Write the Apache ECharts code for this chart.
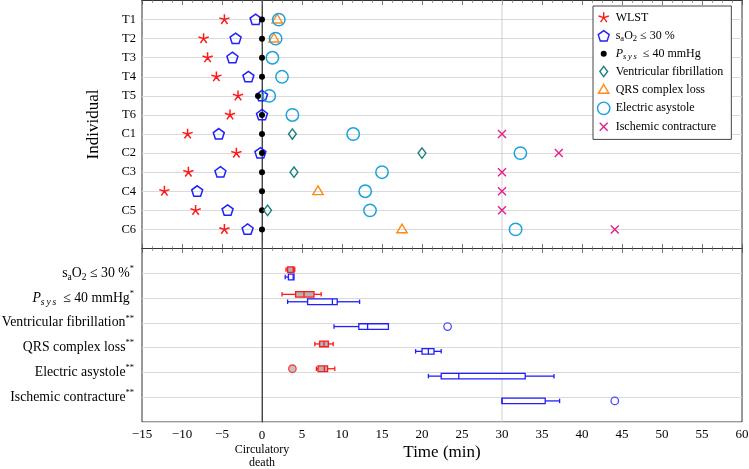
<!DOCTYPE html>
<html><head><meta charset="utf-8">
<script src="https://cdn.jsdelivr.net/npm/echarts@6/dist/echarts.min.js"></script>
<style>html,body{margin:0;padding:0;background:#fff}#c{width:749px;height:469px}</style>
</head><body><div id="c"></div>
<script>
// ---------- data (minutes relative to circulatory death) ----------
const individuals = ['T1','T2','T3','T4','T5','T6','C1','C2','C3','C4','C5','C6'];
const wlst        = [-4.7, -7.3, -6.8, -5.7, -3.0, -4.0, -9.3, -3.2, -9.2, -12.2, -8.3, -4.7];
const sao2        = [-0.8, -3.3, -3.7, -1.7, 0.0, 0.0, -5.4, -0.2, -5.2, -8.1, -4.3, -1.8];
const psys        = [0, 0, 0, 0, -0.5, 0, 0, 0, 0, 0, 0, 0];
const vfib        = [null, null, null, null, null, null, 3.8, 20.0, 4.0, null, 0.7, null];
const qrsLoss     = [1.9, 1.5, null, null, null, null, null, null, null, 7.0, null, 17.5];
const asystole    = [2.1, 1.7, 1.3, 2.5, 0.9, 3.8, 11.4, 32.3, 15.0, 12.9, 13.5, 31.7];
const contracture = [null, null, null, null, null, null, 30.0, 37.1, 30.0, 30.0, 30.0, 44.1];

// box plots (minutes after WLST): [min, q1, median, q3, max]
const boxRows = ['saO2', 'Psys', 'VF', 'QRS', 'EA', 'IC'];
const boxT = [[3.0, 3.2, 3.9, 4.0, 4.1], [2.5, 4.2, 5.25, 6.5, 7.4], null, [6.6, 7.2, 7.75, 8.3, 8.9], [6.8, 7.0, 7.8, 8.2, 9.1], null];
const boxC = [[2.9, 3.3, 3.9, 4.0, 4.0], [3.2, 5.7, 8.8, 9.4, 12.2], [9.0, 12.1, 13.2, 15.8, 15.8], [19.2, 20.0, 20.8, 21.5, 22.4], [20.8, 22.4, 24.6, 32.9, 36.5], [30.0, 30.0, 30.0, 35.4, 37.2]];
const outliersT = [[3.8, 4]];           // [minutes, row index]
const outliersC = [[23.2, 2], [44.1, 5]];

const xMin = -15, xMax = 60, xStep = 5;
const refLines = [0, 30];

// ---------- styling ----------
const serif = "'Liberation Serif', 'DejaVu Serif', serif";
const P = {
  star: 'path://M0 0M14 14M7 7L7 1.6M7 7L12.14 5.33M7 7L10.17 11.37M7 7L3.83 11.37M7 7L1.86 5.33',
  pentagon: 'path://M0 0M14 14M7 1.5L12.5 5.5L10.4 11.9L3.6 11.9L1.5 5.5Z',
  dot: 'path://M0 0M14 14M10 7A3 3 0 1 1 4 7A3 3 0 1 1 10 7Z',
  diamond: 'path://M0 0M14 14M7 1.8L10.9 7L7 12.2L3.1 7Z',
  triangle: 'path://M0 0M14 14M7 1.6L12.2 10.4L1.8 10.4Z',
  circle: 'path://M0 0M14 14M13.2 7A6.2 6.2 0 1 1 0.8 7A6.2 6.2 0 1 1 13.2 7Z',
  cross: 'path://M0 0M14 14M3 3L11 11M11 3L3 11'
};
const RED = '#ff1a1a', BLUE = '#1f1fff', TEAL = '#1b7f7f', ORANGE = '#ff8a1a', CYAN = '#1aa3db', MAGENTA = '#e0208c';

function pts(arr) { const o = []; arr.forEach((v, i) => { if (v !== null) o.push([v, i + 1]); }); return o; }

const markerSeries = [
  { name: 'WLST', sym: P.star, fill: RED, stroke: RED, bw: 1.5, data: wlst },
  { name: 'saO2', sym: P.pentagon, fill: 'rgba(0,0,0,0)', stroke: BLUE, bw: 1.5, data: sao2 },
  { name: 'Psys', sym: P.dot, fill: '#000', stroke: '#000', bw: 0, data: psys },
  { name: 'VF', sym: P.diamond, fill: 'rgba(0,0,0,0)', stroke: TEAL, bw: 1.4, data: vfib },
  { name: 'QRS', sym: P.triangle, fill: 'rgba(0,0,0,0)', stroke: ORANGE, bw: 1.4, data: qrsLoss },
  { name: 'EA', sym: P.circle, fill: 'rgba(0,0,0,0)', stroke: CYAN, bw: 1.5, data: asystole },
  { name: 'IC', sym: P.cross, fill: MAGENTA, stroke: MAGENTA, bw: 1.4, data: contracture }
];

const richText = {
  n: { fontFamily: serif, fontSize: 12, lineHeight: 14, color: '#000' },
  s: { fontFamily: serif, fontSize: 8.5, lineHeight: 8, verticalAlign: 'bottom', color: '#000' },
  i: { fontFamily: serif, fontSize: 12, fontStyle: 'italic', lineHeight: 14, color: '#000' },
  is: { fontFamily: serif, fontSize: 8.5, fontStyle: 'italic', lineHeight: 8, verticalAlign: 'bottom', color: '#000' }
};
const legendRich = {
  WLST: '{n|WLST}',
  saO2: '{n|s}{s|a}{n|O}{s|2}{n| ≤ 30 %}',
  Psys: '{i|P}{is|s\u2009y\u2009s}{n|  ≤ 40 mmHg}',
  VF: '{n|Ventricular fibrillation}',
  QRS: '{n|QRS complex loss}',
  EA: '{n|Electric asystole}',
  IC: '{n|Ischemic contracture}'
};
const rowRich = {
  saO2: '{n|s}{s|a}{n|O}{s|2}{n| ≤ 30 %}{p|*}',
  Psys: '{i|P}{is|s\u2009y\u2009s}{n|  ≤ 40 mmHg}{p|*}',
  VF: '{n|Ventricular fibrillation}{p|**}',
  QRS: '{n|QRS complex loss}{p|**}',
  EA: '{n|Electric asystole}{p|**}',
  IC: '{n|Ischemic contracture}{p|**}'
};
const rowLabelRich = {
  n: { fontFamily: serif, fontSize: 13.8, lineHeight: 18, color: '#000' },
  s: { fontFamily: serif, fontSize: 9.5, lineHeight: 11, verticalAlign: 'bottom', color: '#000' },
  i: { fontFamily: serif, fontSize: 13.8, fontStyle: 'italic', lineHeight: 18, color: '#000' },
  is: { fontFamily: serif, fontSize: 9.5, fontStyle: 'italic', lineHeight: 11, verticalAlign: 'bottom', color: '#000' },
  p: { fontFamily: serif, fontSize: 8.5, lineHeight: 10, verticalAlign: 'top', color: '#000' }
};

function fmtX(v) {
  if (v === 0) return '{t|0}\n{c|Circulatory}\n{c|death}';
  return v < 0 ? '\u2212' + (-v) : String(v);
}

function tickAxis(grid, pos, showLabel) {
  const ax = {
    type: 'value', gridIndex: grid, position: pos, min: xMin, max: xMax, interval: xStep,
    axisLine: { show: true, lineStyle: { color: '#333', width: 1 } },
    axisTick: { show: true, inside: true, length: 4.5, lineStyle: { color: '#555', width: 0.8 } },
    minorTick: { show: true, splitNumber: 4, length: 2.5, lineStyle: { color: '#777', width: 0.7 } },
    splitLine: { show: false },
    axisLabel: { show: false }
  };
  if (showLabel) {
    ax.axisLabel = {
      show: true, margin: 6, fontFamily: serif, fontSize: 13, color: '#000',
      formatter: fmtX,
      rich: {
        t: { fontFamily: serif, fontSize: 13, lineHeight: 15, color: '#000' },
        c: { fontFamily: serif, fontSize: 12, lineHeight: 13.5, color: '#000' }
      }
    };
    ax.name = 'Time (min)';
    ax.nameLocation = 'middle';
    ax.nameGap = 22;
    ax.nameMoveOverlap = false;
    ax.nameTextStyle = { fontFamily: serif, fontSize: 17, color: '#000' };
  }
  return ax;
}

function refLineSeries(xi, yi) {
  return {
    type: 'custom', xAxisIndex: xi, yAxisIndex: yi, silent: true, z: 1,
    data: refLines.map(v => [v]), encode: { x: 0 },
    renderItem: function (params, api) {
      const v = api.value(0);
      const cs = params.coordSys;
      const x = api.coord([v, 0])[0];
      return { type: 'line', shape: { x1: x, y1: cs.y, x2: x, y2: cs.y + cs.height },
        style: { stroke: v === 0 ? '#5a5a5a' : '#cfcfcf', lineWidth: 1 } };
    }
  };
}

function boxSeries(arr, off, stroke, fill) {
  const data = [];
  arr.forEach((b, i) => { if (b) data.push([i + 1].concat(b)); });
  return {
    type: 'custom', xAxisIndex: 2, yAxisIndex: 1, z: 3, silent: true,
    data: data, encode: { x: [1, 2, 3, 4, 5], y: 0 },
    renderItem: function (params, api) {
      const r = api.value(0);
      const xs = [1, 2, 3, 4, 5].map(k => api.coord([api.value(k), r])[0]);
      const cy = api.coord([api.value(1), r])[1] + off;
      const h = 5.6, ch = 4.5, lw = 1.3;
      const ln = (x1, y1, x2, y2) => ({ type: 'line', shape: { x1, y1, x2, y2 }, style: { stroke, lineWidth: lw } });
      const kids = [];
      if (xs[1] - xs[0] > 0.5) { kids.push(ln(xs[0], cy, xs[1], cy)); kids.push(ln(xs[0], cy - ch / 2, xs[0], cy + ch / 2)); }
      if (xs[4] - xs[3] > 0.5) { kids.push(ln(xs[3], cy, xs[4], cy)); kids.push(ln(xs[4], cy - ch / 2, xs[4], cy + ch / 2)); }
      kids.push({ type: 'rect', shape: { x: xs[1], y: cy - h / 2, width: xs[3] - xs[1], height: h }, style: { fill, stroke, lineWidth: lw } });
      kids.push(ln(xs[2], cy - h / 2, xs[2], cy + h / 2));
      return { type: 'group', children: kids };
    }
  };
}

const series = [refLineSeries(0, 0), refLineSeries(2, 1)];
markerSeries.forEach((m, k) => {
  series.push({
    name: m.name, type: 'scatter', xAxisIndex: 0, yAxisIndex: 0, z: 3 + k,
    symbol: m.sym, symbolSize: 14, data: pts(m.data), silent: true,
    itemStyle: { color: m.fill, borderColor: m.stroke, borderWidth: m.bw, opacity: 1 }
  });
});
series.push(boxSeries(boxT, -3.7, RED, '#b3b3b3'));
series.push(boxSeries(boxC, 3.7, BLUE, '#ffffff'));
series.push({
  type: 'scatter', xAxisIndex: 2, yAxisIndex: 1, z: 4, silent: true,
  symbol: 'circle', symbolSize: 7.5, symbolOffset: [0, -3.7],
  data: outliersT.map(o => [o[0], o[1] + 1]),
  itemStyle: { color: '#b3b3b3', borderColor: RED, borderWidth: 1.3 }
});
series.push({
  type: 'scatter', xAxisIndex: 2, yAxisIndex: 1, z: 4, silent: true,
  symbol: 'circle', symbolSize: 7.5, symbolOffset: [0, 3.7],
  data: outliersC.map(o => [o[0], o[1] + 1]),
  itemStyle: { color: '#ffffff', borderColor: BLUE, borderWidth: 1.3 }
});

const option = {
  animation: false,
  backgroundColor: '#fff',
  grid: [
    { left: 142, right: 7, top: 0.5, height: 248, show: true, borderColor: '#333', borderWidth: 1, backgroundColor: '#fff', containLabel: false, outerBoundsMode: 'none' },
    { left: 142, right: 7, top: 248.5, height: 173.5, show: true, borderColor: '#333', borderWidth: 1, backgroundColor: '#fff', containLabel: false, outerBoundsMode: 'none' }
  ],
  xAxis: [tickAxis(0, 'bottom', false), tickAxis(0, 'top', false), tickAxis(1, 'bottom', true), tickAxis(1, 'top', false)],
  yAxis: [
    {
      type: 'value', gridIndex: 0, min: 0, max: individuals.length + 1, interval: 1, inverse: true,
      axisLine: { show: true, lineStyle: { color: '#333' } }, axisTick: { show: false },
      splitLine: { show: true, lineStyle: { color: '#dadada', width: 1 } },
      axisLabel: { margin: 6, fontFamily: serif, fontSize: 12.5, color: '#000',
        formatter: v => individuals[v - 1] || '' },
      name: 'Individual', nameLocation: 'middle', nameGap: 40, nameMoveOverlap: false,
      nameTextStyle: { fontFamily: serif, fontSize: 17, color: '#000' }
    },
    {
      type: 'value', gridIndex: 1, min: 0, max: boxRows.length + 1, interval: 1, inverse: true,
      axisLine: { show: true, lineStyle: { color: '#333' } }, axisTick: { show: false },
      splitLine: { show: true, lineStyle: { color: '#dadada', width: 1 } },
      axisLabel: { margin: 8, formatter: v => rowRich[boxRows[v - 1]] || '', rich: rowLabelRich }
    }
  ],
  legend: {
    left: 593, top: 6, orient: 'vertical', selectedMode: false,
    itemWidth: 14, itemHeight: 14, itemGap: 3,
    padding: [4, 8, 5, 3],
    backgroundColor: '#fff', borderColor: '#444', borderWidth: 1, borderRadius: 0,
    itemStyle: { borderWidth: 1.4 },
    data: markerSeries.map(m => m.bw === 0 ? { name: m.name, itemStyle: { borderWidth: 0 } } : { name: m.name }),
    formatter: name => legendRich[name],
    textStyle: { rich: richText }
  },
  series: series
};

const chart = echarts.init(document.getElementById('c'), null, { renderer: 'canvas' });
chart.setOption(option);
</script>
</body></html>
